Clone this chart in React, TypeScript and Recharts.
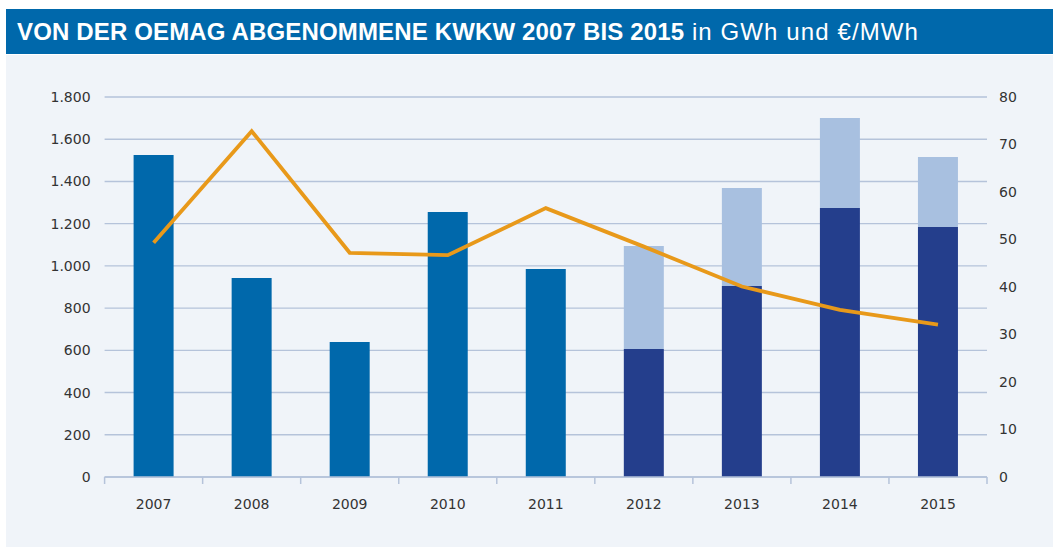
import {
  ComposedChart,
  Bar,
  Line,
  Cell,
  XAxis,
  YAxis,
  CartesianGrid,
} from 'recharts';

const YEARS = ['2007', '2008', '2009', '2010', '2011', '2012', '2013', '2014', '2015'];
// abgenommene Menge in GWh (dunkler Teil) und zusätzlicher heller Anteil ab 2012
const GWH_BASE = [1525, 943, 640, 1255, 985, 606, 905, 1274, 1184];
const GWH_EXTRA = [0, 0, 0, 0, 0, 488, 464, 426, 332];
// Preis in €/MWh
const PRICE = [49.3, 72.8, 47.2, 46.7, 56.6, 48.5, 40.1, 35.2, 32.1];

const LEFT_TICKS = [0, 200, 400, 600, 800, 1000, 1200, 1400, 1600, 1800];
const RIGHT_TICKS = [0, 10, 20, 30, 40, 50, 60, 70, 80];

const BLUE = '#0068ab';
const NAVY = '#243e8c';
const LIGHT = '#a8c0e0';
const ORANGE = '#e8991a';
const GRID = '#b5c3da';
const PANEL = '#f0f4f9';
const FONT = 'DejaVu Sans, sans-serif';

const data = YEARS.map((y, i) => ({
  year: y,
  base: GWH_BASE[i],
  extra: GWH_EXTRA[i],
  price: PRICE[i],
}));

const fmt = (v: number) => v.toLocaleString('de-DE');

const tickStyle = { fill: '#333', fontSize: 14, fontFamily: FONT };

// year label plus small tick marks at the category boundaries
function YearTick(props: any) {
  const { x, y, payload, index, width, visibleTicksCount } = props;
  const step = width / (visibleTicksCount || YEARS.length);
  const axisY = y;
  return (
    <g>
      <line x1={x - step / 2} x2={x - step / 2} y1={axisY} y2={axisY + 7} stroke={GRID} strokeWidth={1.5} />
      {index === YEARS.length - 1 && (
        <line x1={x + step / 2} x2={x + step / 2} y1={axisY} y2={axisY + 7} stroke={GRID} strokeWidth={1.5} />
      )}
      <text x={x} y={axisY + 32} textAnchor="middle" fill="#333" fontSize={14} fontFamily={FONT}>
        {payload.value}
      </text>
    </g>
  );
}

export default function App() {
  return (
    <div style={{ position: 'absolute', left: 0, top: 0, width: 1053, height: 547, background: '#fff', overflow: 'hidden' }}>
      <div
        style={{
          position: 'absolute', left: 6, top: 9, width: 1047, height: 45, background: BLUE,
          color: '#fff', fontFamily: 'Liberation Sans, Arial, sans-serif', fontSize: 24,
          lineHeight: '45px', paddingLeft: 11, boxSizing: 'border-box', whiteSpace: 'nowrap',
        }}
      >
        <span style={{ fontWeight: 700, letterSpacing: 0.15 }}>VON DER OEMAG ABGENOMMENE KWKW 2007 BIS 2015</span>
        <span style={{ fontWeight: 400, letterSpacing: 1.1 }}> in GWh und €/MWh</span>
      </div>
      <div style={{ position: 'absolute', left: 6, top: 55, width: 1047, height: 492, background: PANEL }} />
      <div style={{ position: 'absolute', left: 0, top: 0 }}>
        <ComposedChart
          width={1053}
          height={547}
          data={data}
          margin={{ top: 97, right: 0, left: 0, bottom: 40 }}
        >
          <CartesianGrid yAxisId="left" vertical={false} stroke={GRID} strokeWidth={1.4} />
          <XAxis
            dataKey="year"
            tick={<YearTick />}
            interval={0}
            axisLine={{ stroke: GRID, strokeWidth: 1.5 }}
            tickLine={false}
            tickSize={0}
            tickMargin={0}
            height={30}
          />
          <YAxis
            yAxisId="left"
            domain={[0, 1800]}
            ticks={LEFT_TICKS}
            tickFormatter={fmt}
            tick={tickStyle}
            axisLine={false}
            tickLine={false}
            width={104.6}
            tickMargin={8}
          />
          <YAxis
            yAxisId="right"
            orientation="right"
            domain={[0, 80]}
            ticks={RIGHT_TICKS}
            tick={{ ...tickStyle, textAnchor: 'start' }}
            axisLine={false}
            tickLine={false}
            width={66}
            tickMargin={6}
          />
          <Bar yAxisId="left" dataKey="base" stackId="a" barSize={40} isAnimationActive={false}>
            {data.map((d, i) => (
              <Cell key={d.year} fill={GWH_EXTRA[i] > 0 ? NAVY : BLUE} />
            ))}
          </Bar>
          <Bar yAxisId="left" dataKey="extra" stackId="a" barSize={40} fill={LIGHT} isAnimationActive={false} />
          <Line
            yAxisId="right"
            type="linear"
            dataKey="price"
            stroke={ORANGE}
            strokeWidth={3.8}
            dot={false}
            activeDot={false}
            isAnimationActive={false}
          />
        </ComposedChart>
      </div>
    </div>
  );
}
